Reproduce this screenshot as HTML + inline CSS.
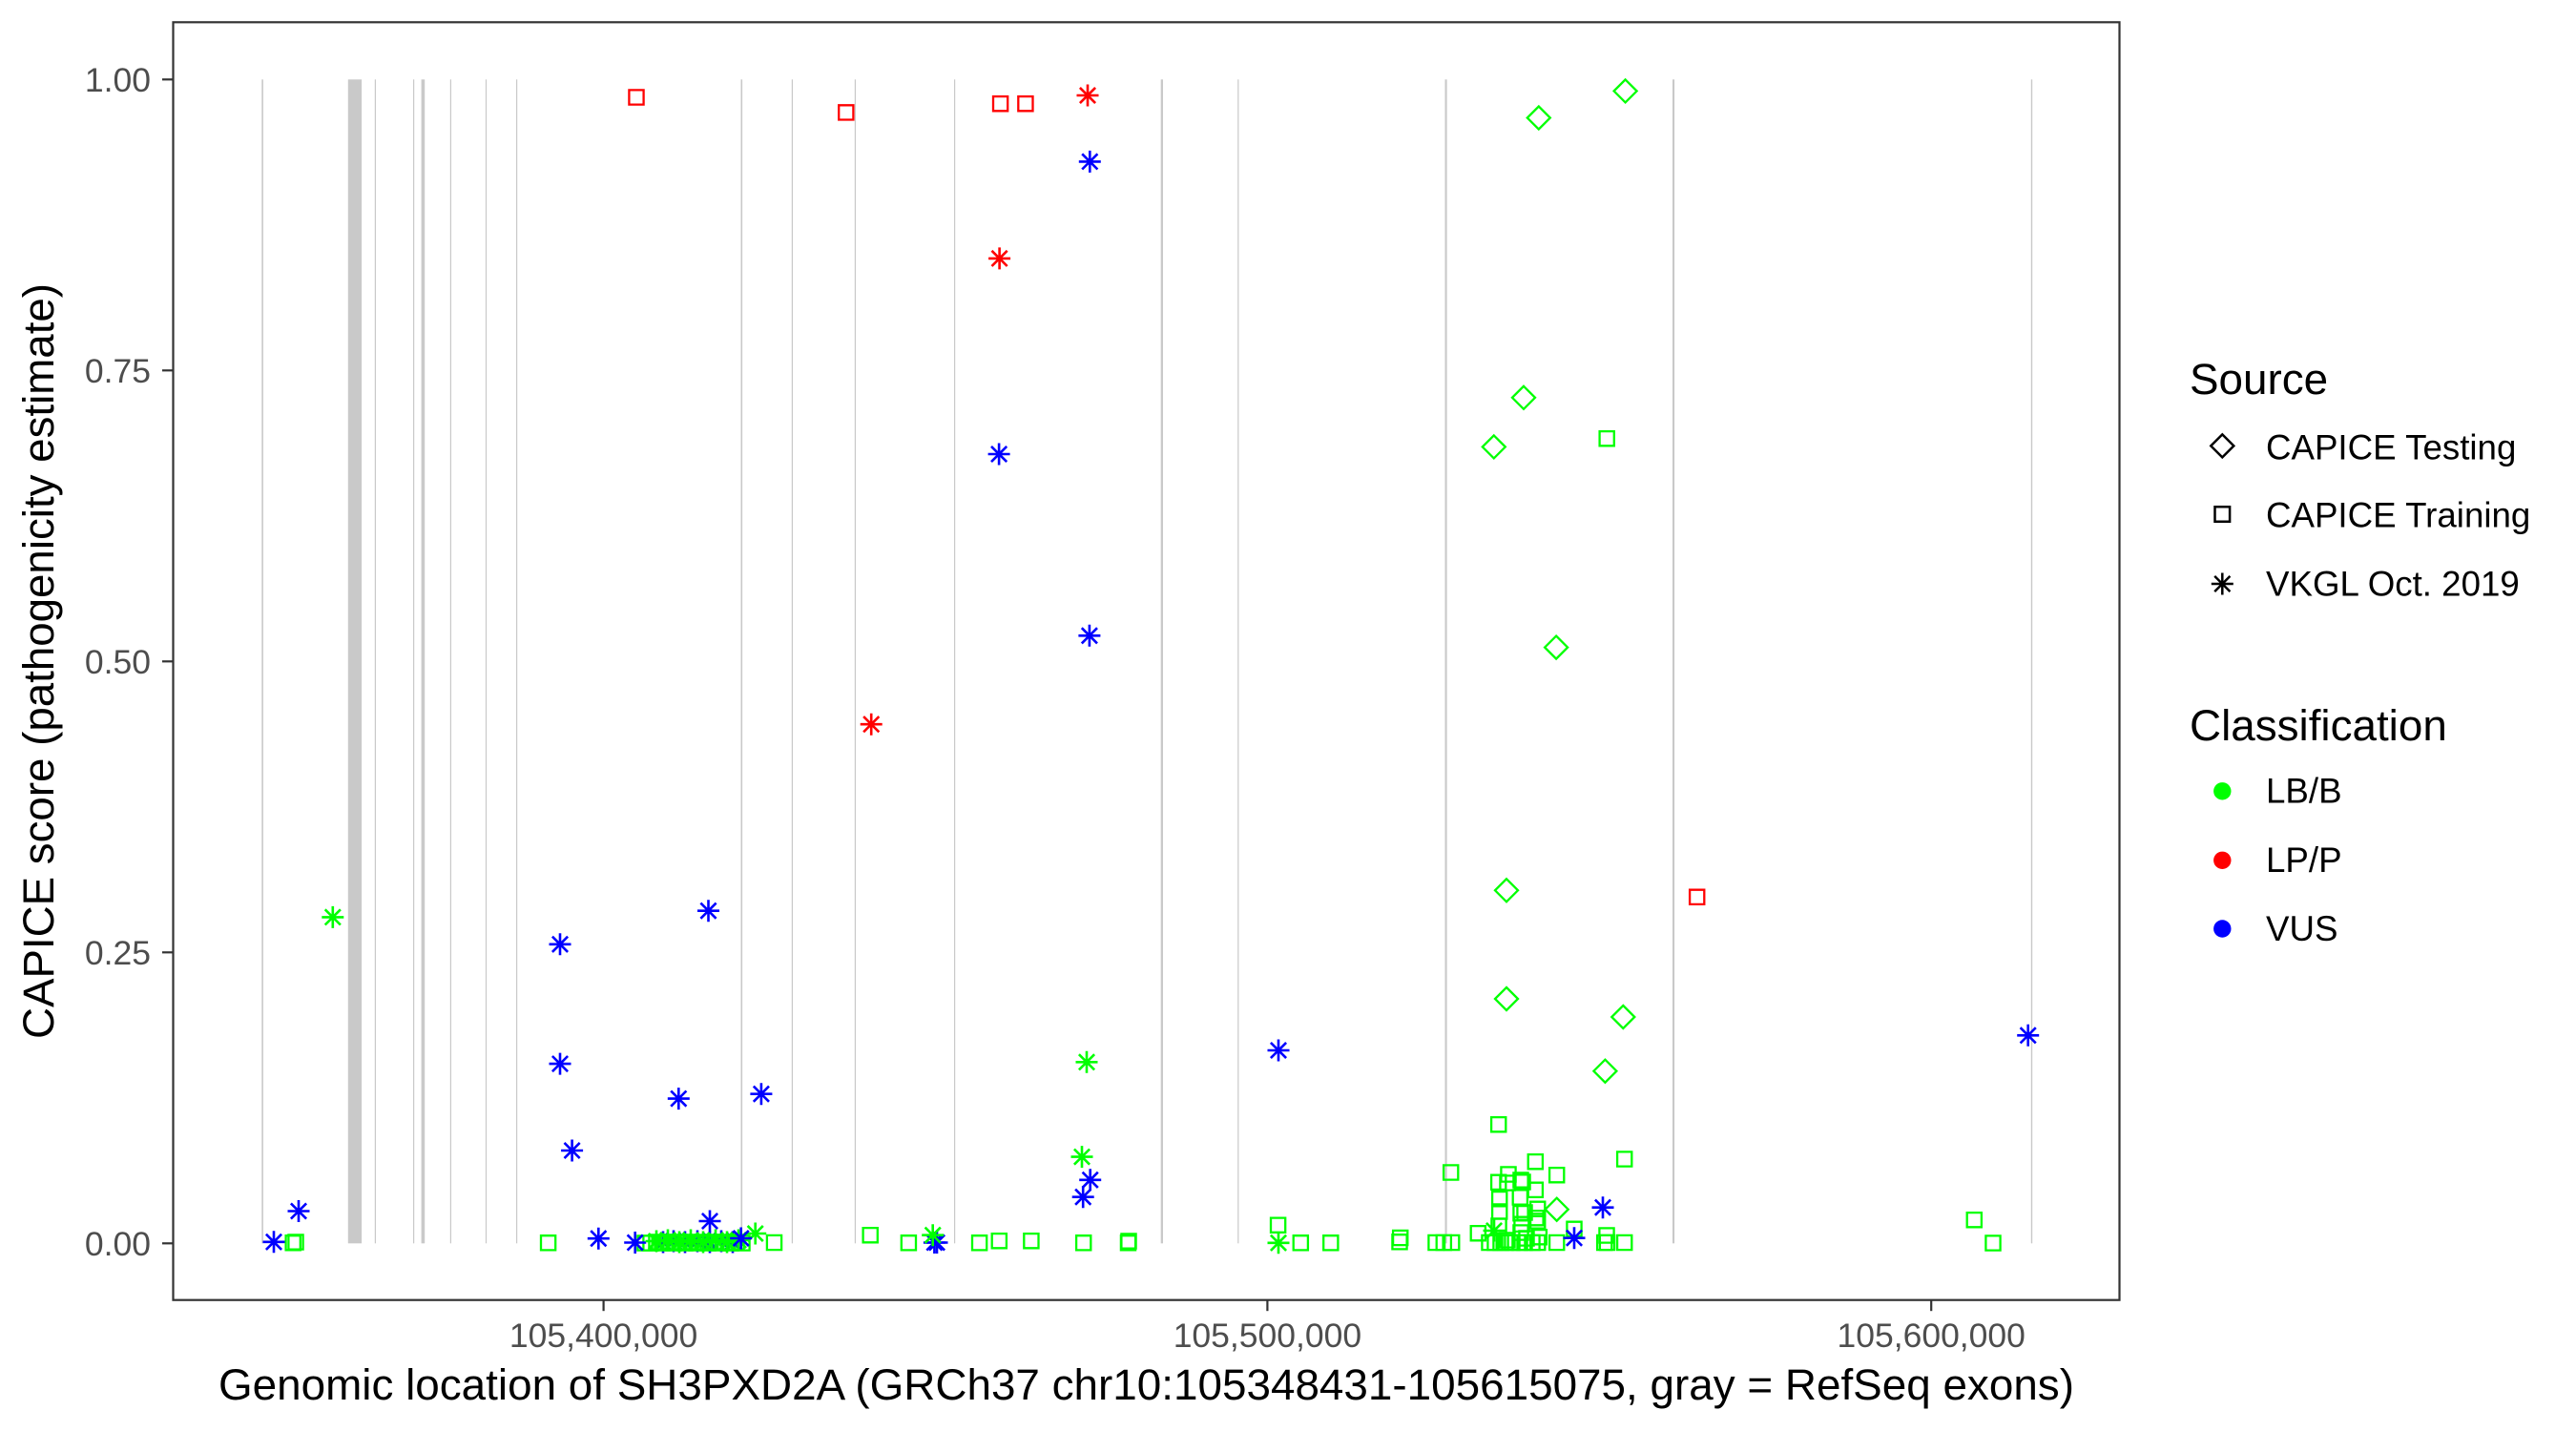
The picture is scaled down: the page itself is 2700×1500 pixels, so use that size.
<!DOCTYPE html>
<html>
<head>
<meta charset="utf-8">
<style>
html,body{margin:0;padding:0;background:#fff;}
svg{display:block;}
text{font-family:"Liberation Sans",Arial,Helvetica,sans-serif;}
</style>
</head>
<body>
<svg width="2700" height="1500" viewBox="0 0 2700 1500" xmlns="http://www.w3.org/2000/svg">
<rect x="0" y="0" width="2700" height="1500" fill="#ffffff"/>

<g fill="#c9c9c9">
<rect x="274.3" y="83.3" width="1.6" height="1220"/>
<rect x="364.8" y="83.3" width="14.3" height="1220"/>
<rect x="392.8" y="83.3" width="1.2" height="1220"/>
<rect x="433" y="83.3" width="1.2" height="1220"/>
<rect x="441.6" y="83.3" width="3.6" height="1220"/>
<rect x="471.8" y="83.3" width="1.2" height="1220"/>
<rect x="508.9" y="83.3" width="1.2" height="1220"/>
<rect x="541" y="83.3" width="1.2" height="1220"/>
<rect x="776.5" y="83.3" width="1.6" height="1220"/>
<rect x="829.8" y="83.3" width="1.2" height="1220"/>
<rect x="895.8" y="83.3" width="1.2" height="1220"/>
<rect x="1000" y="83.3" width="1.2" height="1220"/>
<rect x="1216.7" y="83.3" width="2.3" height="1220"/>
<rect x="1297.2" y="83.3" width="1.2" height="1220"/>
<rect x="1514.5" y="83.3" width="2.1" height="1220"/>
<rect x="1753" y="83.3" width="2.1" height="1220"/>
<rect x="2128.8" y="83.3" width="1.4" height="1220"/>
</g>

<!-- left cluster: blue asterisks underneath -->
<g fill="none" stroke="#0000ff" stroke-width="2.6">
<path transform="translate(695,1302)" d="M-11.5 0h23M0-11.5v23M-8.1-8.1l16.2 16.2M-8.1 8.1l16.2-16.2"/>
<path transform="translate(706,1301)" d="M-11.5 0h23M0-11.5v23M-8.1-8.1l16.2 16.2M-8.1 8.1l16.2-16.2"/>
<path transform="translate(718,1302)" d="M-11.5 0h23M0-11.5v23M-8.1-8.1l16.2 16.2M-8.1 8.1l16.2-16.2"/>
<path transform="translate(731,1301)" d="M-11.5 0h23M0-11.5v23M-8.1-8.1l16.2 16.2M-8.1 8.1l16.2-16.2"/>
<path transform="translate(744,1302)" d="M-11.5 0h23M0-11.5v23M-8.1-8.1l16.2 16.2M-8.1 8.1l16.2-16.2"/>
<path transform="translate(756,1301)" d="M-11.5 0h23M0-11.5v23M-8.1-8.1l16.2 16.2M-8.1 8.1l16.2-16.2"/>
<path transform="translate(768,1302)" d="M-11.5 0h23M0-11.5v23M-8.1-8.1l16.2 16.2M-8.1 8.1l16.2-16.2"/>
</g>

<!-- GREEN squares -->
<g fill="none" stroke="#00ff00" stroke-width="2.3">
<path transform="translate(307.2,1302.8)" d="M-7.6-7.6h15.2v15.2h-15.2z"/>
<path transform="translate(310,1302)" d="M-7.6-7.6h15.2v15.2h-15.2z"/>
<path transform="translate(574.6,1302.8)" d="M-7.6-7.6h15.2v15.2h-15.2z"/>
<path transform="translate(676,1303)" d="M-7.6-7.6h15.2v15.2h-15.2z"/>
<path transform="translate(682,1303)" d="M-7.6-7.6h15.2v15.2h-15.2z"/>
<path transform="translate(688,1302)" d="M-7.6-7.6h15.2v15.2h-15.2z"/>
<path transform="translate(694,1303)" d="M-7.6-7.6h15.2v15.2h-15.2z"/>
<path transform="translate(700,1302)" d="M-7.6-7.6h15.2v15.2h-15.2z"/>
<path transform="translate(706,1303)" d="M-7.6-7.6h15.2v15.2h-15.2z"/>
<path transform="translate(712,1302)" d="M-7.6-7.6h15.2v15.2h-15.2z"/>
<path transform="translate(718,1303)" d="M-7.6-7.6h15.2v15.2h-15.2z"/>
<path transform="translate(724,1302)" d="M-7.6-7.6h15.2v15.2h-15.2z"/>
<path transform="translate(730,1303)" d="M-7.6-7.6h15.2v15.2h-15.2z"/>
<path transform="translate(736,1302)" d="M-7.6-7.6h15.2v15.2h-15.2z"/>
<path transform="translate(742,1303)" d="M-7.6-7.6h15.2v15.2h-15.2z"/>
<path transform="translate(748,1302)" d="M-7.6-7.6h15.2v15.2h-15.2z"/>
<path transform="translate(754,1303)" d="M-7.6-7.6h15.2v15.2h-15.2z"/>
<path transform="translate(760,1302)" d="M-7.6-7.6h15.2v15.2h-15.2z"/>
<path transform="translate(766,1303)" d="M-7.6-7.6h15.2v15.2h-15.2z"/>
<path transform="translate(772,1302)" d="M-7.6-7.6h15.2v15.2h-15.2z"/>
<path transform="translate(778,1303)" d="M-7.6-7.6h15.2v15.2h-15.2z"/>
<path transform="translate(811.5,1302.5)" d="M-7.6-7.6h15.2v15.2h-15.2z"/>
<path transform="translate(912.2,1294.7)" d="M-7.6-7.6h15.2v15.2h-15.2z"/>
<path transform="translate(952.4,1302.8)" d="M-7.6-7.6h15.2v15.2h-15.2z"/>
<path transform="translate(1026.6,1302.8)" d="M-7.6-7.6h15.2v15.2h-15.2z"/>
<path transform="translate(1047.3,1300.7)" d="M-7.6-7.6h15.2v15.2h-15.2z"/>
<path transform="translate(1080.9,1300.7)" d="M-7.6-7.6h15.2v15.2h-15.2z"/>
<path transform="translate(1135.7,1302.8)" d="M-7.6-7.6h15.2v15.2h-15.2z"/>
<path transform="translate(1182.5,1302.8)" d="M-7.6-7.6h15.2v15.2h-15.2z"/>
<path transform="translate(1183,1301)" d="M-7.6-7.6h15.2v15.2h-15.2z"/>
<path transform="translate(1339.6,1284.2)" d="M-7.6-7.6h15.2v15.2h-15.2z"/>
<path transform="translate(1363.3,1302.8)" d="M-7.6-7.6h15.2v15.2h-15.2z"/>
<path transform="translate(1394.8,1302.8)" d="M-7.6-7.6h15.2v15.2h-15.2z"/>
<path transform="translate(1467.7,1297.5)" d="M-7.6-7.6h15.2v15.2h-15.2z"/>
<path transform="translate(1467,1301.8)" d="M-7.6-7.6h15.2v15.2h-15.2z"/>
<path transform="translate(1570.7,1178.7)" d="M-7.6-7.6h15.2v15.2h-15.2z"/>
<path transform="translate(1520.7,1229)" d="M-7.6-7.6h15.2v15.2h-15.2z"/>
<path transform="translate(1609.3,1217.7)" d="M-7.6-7.6h15.2v15.2h-15.2z"/>
<path transform="translate(1631.7,1231.7)" d="M-7.6-7.6h15.2v15.2h-15.2z"/>
<path transform="translate(1702.7,1215)" d="M-7.6-7.6h15.2v15.2h-15.2z"/>
<path transform="translate(1581,1231)" d="M-7.6-7.6h15.2v15.2h-15.2z"/>
<path transform="translate(1570.7,1239.3)" d="M-7.6-7.6h15.2v15.2h-15.2z"/>
<path transform="translate(1580,1240)" d="M-7.6-7.6h15.2v15.2h-15.2z"/>
<path transform="translate(1594,1237)" d="M-7.6-7.6h15.2v15.2h-15.2z"/>
<path transform="translate(1596,1239)" d="M-7.6-7.6h15.2v15.2h-15.2z"/>
<path transform="translate(1609.3,1247.3)" d="M-7.6-7.6h15.2v15.2h-15.2z"/>
<path transform="translate(1571.7,1256.7)" d="M-7.6-7.6h15.2v15.2h-15.2z"/>
<path transform="translate(1593.3,1255)" d="M-7.6-7.6h15.2v15.2h-15.2z"/>
<path transform="translate(1571.7,1270)" d="M-7.6-7.6h15.2v15.2h-15.2z"/>
<path transform="translate(1594,1271.7)" d="M-7.6-7.6h15.2v15.2h-15.2z"/>
<path transform="translate(1598,1271)" d="M-7.6-7.6h15.2v15.2h-15.2z"/>
<path transform="translate(1611.7,1267.3)" d="M-7.6-7.6h15.2v15.2h-15.2z"/>
<path transform="translate(1610,1276.7)" d="M-7.6-7.6h15.2v15.2h-15.2z"/>
<path transform="translate(1549.3,1292.7)" d="M-7.6-7.6h15.2v15.2h-15.2z"/>
<path transform="translate(1595,1283.3)" d="M-7.6-7.6h15.2v15.2h-15.2z"/>
<path transform="translate(1611.7,1280)" d="M-7.6-7.6h15.2v15.2h-15.2z"/>
<path transform="translate(1613.3,1296.7)" d="M-7.6-7.6h15.2v15.2h-15.2z"/>
<path transform="translate(1650,1288.3)" d="M-7.6-7.6h15.2v15.2h-15.2z"/>
<path transform="translate(1684,1295)" d="M-7.6-7.6h15.2v15.2h-15.2z"/>
<path transform="translate(1571,1285)" d="M-7.6-7.6h15.2v15.2h-15.2z"/>
<path transform="translate(1594,1292)" d="M-7.6-7.6h15.2v15.2h-15.2z"/>
<path transform="translate(1600,1298)" d="M-7.6-7.6h15.2v15.2h-15.2z"/>
<path transform="translate(1580,1300)" d="M-7.6-7.6h15.2v15.2h-15.2z"/>
<path transform="translate(1505,1302.5)" d="M-7.6-7.6h15.2v15.2h-15.2z"/>
<path transform="translate(1513.3,1302.5)" d="M-7.6-7.6h15.2v15.2h-15.2z"/>
<path transform="translate(1521.7,1302.5)" d="M-7.6-7.6h15.2v15.2h-15.2z"/>
<path transform="translate(1561,1302.5)" d="M-7.6-7.6h15.2v15.2h-15.2z"/>
<path transform="translate(1567,1302.5)" d="M-7.6-7.6h15.2v15.2h-15.2z"/>
<path transform="translate(1573,1302.5)" d="M-7.6-7.6h15.2v15.2h-15.2z"/>
<path transform="translate(1578,1302.5)" d="M-7.6-7.6h15.2v15.2h-15.2z"/>
<path transform="translate(1585,1302.5)" d="M-7.6-7.6h15.2v15.2h-15.2z"/>
<path transform="translate(1593,1302.5)" d="M-7.6-7.6h15.2v15.2h-15.2z"/>
<path transform="translate(1598,1302.5)" d="M-7.6-7.6h15.2v15.2h-15.2z"/>
<path transform="translate(1606,1302.5)" d="M-7.6-7.6h15.2v15.2h-15.2z"/>
<path transform="translate(1611.7,1302.5)" d="M-7.6-7.6h15.2v15.2h-15.2z"/>
<path transform="translate(1631.7,1302.5)" d="M-7.6-7.6h15.2v15.2h-15.2z"/>
<path transform="translate(1681.7,1302.5)" d="M-7.6-7.6h15.2v15.2h-15.2z"/>
<path transform="translate(1684.5,1302.5)" d="M-7.6-7.6h15.2v15.2h-15.2z"/>
<path transform="translate(1702.7,1302.5)" d="M-7.6-7.6h15.2v15.2h-15.2z"/>
<path transform="translate(1684.2,459.7)" d="M-7.6-7.6h15.2v15.2h-15.2z"/>
<path transform="translate(2069.3,1278.7)" d="M-7.6-7.6h15.2v15.2h-15.2z"/>
<path transform="translate(2089,1303)" d="M-7.6-7.6h15.2v15.2h-15.2z"/>
</g>

<!-- GREEN diamonds -->
<g fill="none" stroke="#00ff00" stroke-width="2.3">
<path transform="translate(1703.6,95.4)" d="M0-12l12 12-12 12-12-12z"/>
<path transform="translate(1612.8,123.5)" d="M0-12l12 12-12 12-12-12z"/>
<path transform="translate(1597,416.8)" d="M0-12l12 12-12 12-12-12z"/>
<path transform="translate(1565.8,468.4)" d="M0-12l12 12-12 12-12-12z"/>
<path transform="translate(1631.1,678.6)" d="M0-12l12 12-12 12-12-12z"/>
<path transform="translate(1579,933.3)" d="M0-12l12 12-12 12-12-12z"/>
<path transform="translate(1579,1047)" d="M0-12l12 12-12 12-12-12z"/>
<path transform="translate(1701.3,1066)" d="M0-12l12 12-12 12-12-12z"/>
<path transform="translate(1682.4,1122.7)" d="M0-12l12 12-12 12-12-12z"/>
<path transform="translate(1631.7,1267.7)" d="M0-12l12 12-12 12-12-12z"/>
</g>

<!-- BLUE asterisks (others) -->
<g fill="none" stroke="#0000ff" stroke-width="2.6">
<path transform="translate(1142.3,169.4)" d="M-11.5 0h23M0-11.5v23M-8.1-8.1l16.2 16.2M-8.1 8.1l16.2-16.2"/>
<path transform="translate(1047.1,476)" d="M-11.5 0h23M0-11.5v23M-8.1-8.1l16.2 16.2M-8.1 8.1l16.2-16.2"/>
<path transform="translate(1141.9,666.3)" d="M-11.5 0h23M0-11.5v23M-8.1-8.1l16.2 16.2M-8.1 8.1l16.2-16.2"/>
<path transform="translate(587,989.8)" d="M-11.5 0h23M0-11.5v23M-8.1-8.1l16.2 16.2M-8.1 8.1l16.2-16.2"/>
<path transform="translate(742.5,954.7)" d="M-11.5 0h23M0-11.5v23M-8.1-8.1l16.2 16.2M-8.1 8.1l16.2-16.2"/>
<path transform="translate(587,1115.1)" d="M-11.5 0h23M0-11.5v23M-8.1-8.1l16.2 16.2M-8.1 8.1l16.2-16.2"/>
<path transform="translate(711.3,1151.6)" d="M-11.5 0h23M0-11.5v23M-8.1-8.1l16.2 16.2M-8.1 8.1l16.2-16.2"/>
<path transform="translate(797.9,1146.7)" d="M-11.5 0h23M0-11.5v23M-8.1-8.1l16.2 16.2M-8.1 8.1l16.2-16.2"/>
<path transform="translate(599.6,1206)" d="M-11.5 0h23M0-11.5v23M-8.1-8.1l16.2 16.2M-8.1 8.1l16.2-16.2"/>
<path transform="translate(313,1269.5)" d="M-11.5 0h23M0-11.5v23M-8.1-8.1l16.2 16.2M-8.1 8.1l16.2-16.2"/>
<path transform="translate(287,1301.8)" d="M-11.5 0h23M0-11.5v23M-8.1-8.1l16.2 16.2M-8.1 8.1l16.2-16.2"/>
<path transform="translate(627.3,1298.2)" d="M-11.5 0h23M0-11.5v23M-8.1-8.1l16.2 16.2M-8.1 8.1l16.2-16.2"/>
<path transform="translate(665.7,1302.5)" d="M-11.5 0h23M0-11.5v23M-8.1-8.1l16.2 16.2M-8.1 8.1l16.2-16.2"/>
<path transform="translate(979.4,1302.5)" d="M-11.5 0h23M0-11.5v23M-8.1-8.1l16.2 16.2M-8.1 8.1l16.2-16.2"/>
<path transform="translate(982,1302.5)" d="M-11.5 0h23M0-11.5v23M-8.1-8.1l16.2 16.2M-8.1 8.1l16.2-16.2"/>
<path transform="translate(1142.7,1236.8)" d="M-11.5 0h23M0-11.5v23M-8.1-8.1l16.2 16.2M-8.1 8.1l16.2-16.2"/>
<path transform="translate(1135.2,1254.7)" d="M-11.5 0h23M0-11.5v23M-8.1-8.1l16.2 16.2M-8.1 8.1l16.2-16.2"/>
<path transform="translate(1340,1101)" d="M-11.5 0h23M0-11.5v23M-8.1-8.1l16.2 16.2M-8.1 8.1l16.2-16.2"/>
<path transform="translate(1680,1265.7)" d="M-11.5 0h23M0-11.5v23M-8.1-8.1l16.2 16.2M-8.1 8.1l16.2-16.2"/>
<path transform="translate(1650,1297.7)" d="M-11.5 0h23M0-11.5v23M-8.1-8.1l16.2 16.2M-8.1 8.1l16.2-16.2"/>
<path transform="translate(2125.7,1085.3)" d="M-11.5 0h23M0-11.5v23M-8.1-8.1l16.2 16.2M-8.1 8.1l16.2-16.2"/>
</g>

<!-- GREEN asterisks -->
<g fill="none" stroke="#00ff00" stroke-width="2.6">
<path transform="translate(348.8,961.4)" d="M-11.5 0h23M0-11.5v23M-8.1-8.1l16.2 16.2M-8.1 8.1l16.2-16.2"/>
<path transform="translate(688,1301)" d="M-11.5 0h23M0-11.5v23M-8.1-8.1l16.2 16.2M-8.1 8.1l16.2-16.2"/>
<path transform="translate(700,1300)" d="M-11.5 0h23M0-11.5v23M-8.1-8.1l16.2 16.2M-8.1 8.1l16.2-16.2"/>
<path transform="translate(712,1302)" d="M-11.5 0h23M0-11.5v23M-8.1-8.1l16.2 16.2M-8.1 8.1l16.2-16.2"/>
<path transform="translate(724,1300)" d="M-11.5 0h23M0-11.5v23M-8.1-8.1l16.2 16.2M-8.1 8.1l16.2-16.2"/>
<path transform="translate(737,1302)" d="M-11.5 0h23M0-11.5v23M-8.1-8.1l16.2 16.2M-8.1 8.1l16.2-16.2"/>
<path transform="translate(750,1300)" d="M-11.5 0h23M0-11.5v23M-8.1-8.1l16.2 16.2M-8.1 8.1l16.2-16.2"/>
<path transform="translate(762,1302)" d="M-11.5 0h23M0-11.5v23M-8.1-8.1l16.2 16.2M-8.1 8.1l16.2-16.2"/>
<path transform="translate(774,1300)" d="M-11.5 0h23M0-11.5v23M-8.1-8.1l16.2 16.2M-8.1 8.1l16.2-16.2"/>
<path transform="translate(791.7,1293)" d="M-11.5 0h23M0-11.5v23M-8.1-8.1l16.2 16.2M-8.1 8.1l16.2-16.2"/>
<path transform="translate(977.7,1294.7)" d="M-11.5 0h23M0-11.5v23M-8.1-8.1l16.2 16.2M-8.1 8.1l16.2-16.2"/>
<path transform="translate(1139,1113.3)" d="M-11.5 0h23M0-11.5v23M-8.1-8.1l16.2 16.2M-8.1 8.1l16.2-16.2"/>
<path transform="translate(1134,1212.6)" d="M-11.5 0h23M0-11.5v23M-8.1-8.1l16.2 16.2M-8.1 8.1l16.2-16.2"/>
<path transform="translate(1340,1302.8)" d="M-11.5 0h23M0-11.5v23M-8.1-8.1l16.2 16.2M-8.1 8.1l16.2-16.2"/>
<path transform="translate(1566,1290)" d="M-11.5 0h23M0-11.5v23M-8.1-8.1l16.2 16.2M-8.1 8.1l16.2-16.2"/>
</g>

<!-- blue on top in left cluster -->
<g fill="none" stroke="#0000ff" stroke-width="2.6">
<path transform="translate(744,1280)" d="M-11.5 0h23M0-11.5v23M-8.1-8.1l16.2 16.2M-8.1 8.1l16.2-16.2"/>
<path transform="translate(776.7,1298)" d="M-11.5 0h23M0-11.5v23M-8.1-8.1l16.2 16.2M-8.1 8.1l16.2-16.2"/>
</g>

<!-- RED -->
<g fill="none" stroke="#ff0000" stroke-width="2.3">
<path transform="translate(667,102)" d="M-7.6-7.6h15.2v15.2h-15.2z"/>
<path transform="translate(886.8,117.9)" d="M-7.6-7.6h15.2v15.2h-15.2z"/>
<path transform="translate(1048.6,108.7)" d="M-7.6-7.6h15.2v15.2h-15.2z"/>
<path transform="translate(1074.9,108.7)" d="M-7.6-7.6h15.2v15.2h-15.2z"/>
<path transform="translate(1778.7,940.3)" d="M-7.6-7.6h15.2v15.2h-15.2z"/>
</g>
<g fill="none" stroke="#ff0000" stroke-width="2.6">
<path transform="translate(1140,100)" d="M-11.5 0h23M0-11.5v23M-8.1-8.1l16.2 16.2M-8.1 8.1l16.2-16.2"/>
<path transform="translate(1047.6,270.9)" d="M-11.5 0h23M0-11.5v23M-8.1-8.1l16.2 16.2M-8.1 8.1l16.2-16.2"/>
<path transform="translate(913.2,759.2)" d="M-11.5 0h23M0-11.5v23M-8.1-8.1l16.2 16.2M-8.1 8.1l16.2-16.2"/>
</g>

<rect x="181.5" y="23.3" width="2040" height="1339.4" fill="none" stroke="#333333" stroke-width="2.2"/>

<g stroke="#333333" stroke-width="2.2">
<line x1="170" y1="83.3" x2="181.5" y2="83.3"/>
<line x1="170" y1="388.3" x2="181.5" y2="388.3"/>
<line x1="170" y1="693.3" x2="181.5" y2="693.3"/>
<line x1="170" y1="998.3" x2="181.5" y2="998.3"/>
<line x1="170" y1="1303.3" x2="181.5" y2="1303.3"/>
<line x1="632.6" y1="1362.7" x2="632.6" y2="1374.2"/>
<line x1="1328.4" y1="1362.7" x2="1328.4" y2="1374.2"/>
<line x1="2024.2" y1="1362.7" x2="2024.2" y2="1374.2"/>
</g>
<g font-size="35.5" fill="#4d4d4d" text-anchor="end">
<text x="158" y="96">1.00</text>
<text x="158" y="401">0.75</text>
<text x="158" y="706">0.50</text>
<text x="158" y="1011">0.25</text>
<text x="158" y="1316">0.00</text>
</g>
<g font-size="35.5" fill="#4d4d4d" text-anchor="middle">
<text x="632.6" y="1412">105,400,000</text>
<text x="1328.4" y="1412">105,500,000</text>
<text x="2024.2" y="1412">105,600,000</text>
</g>

<text x="1201.5" y="1467" font-size="45.8" fill="#000" text-anchor="middle" textLength="1945" lengthAdjust="spacingAndGlyphs">Genomic location of SH3PXD2A (GRCh37 chr10:105348431-105615075, gray = RefSeq exons)</text>
<text transform="translate(56,693) rotate(-90)" x="0" y="0" font-size="45.8" fill="#000" text-anchor="middle" textLength="792" lengthAdjust="spacingAndGlyphs">CAPICE score (pathogenicity estimate)</text>

<text x="2295" y="413" font-size="45.8" fill="#000">Source</text>
<g fill="none" stroke="#000" stroke-width="2.5">
<path transform="translate(2329.3,467.4)" d="M0-12l12 12-12 12-12-12z"/>
<path transform="translate(2329.3,539)" d="M-7.8-7.8h15.6v15.6h-15.6z"/>
<path transform="translate(2329.3,612)" d="M-11.5 0h23M0-11.5v23M-8.1-8.1l16.2 16.2M-8.1 8.1l16.2-16.2"/>
</g>
<g font-size="36.7" fill="#000">
<text x="2375" y="481.5">CAPICE Testing</text>
<text x="2375" y="552.6">CAPICE Training</text>
<text x="2375" y="624.3">VKGL Oct. 2019</text>
</g>
<text x="2295" y="776" font-size="45.8" fill="#000">Classification</text>
<circle cx="2329.3" cy="829.3" r="9.2" fill="#00ff00"/>
<circle cx="2329.3" cy="901.8" r="9.2" fill="#ff0000"/>
<circle cx="2329.3" cy="973.5" r="9.2" fill="#0000ff"/>
<g font-size="36.7" fill="#000">
<text x="2375" y="841.6">LB/B</text>
<text x="2375" y="914">LP/P</text>
<text x="2375" y="985.8">VUS</text>
</g>
</svg>
</body>
</html>
